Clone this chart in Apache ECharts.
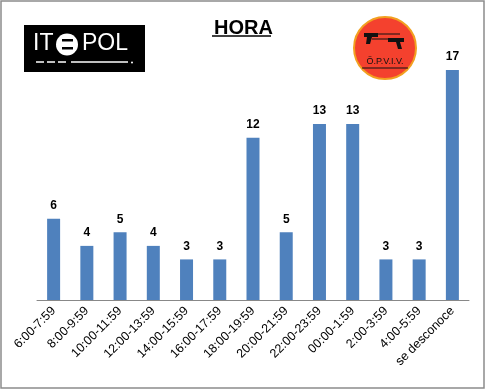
<!DOCTYPE html>
<html><head><meta charset="utf-8">
<script src="https://cdn.jsdelivr.net/npm/echarts@6/dist/echarts.min.js"></script>
<style>html,body{margin:0;padding:0;background:#fff}#c{width:487px;height:392px}</style>
</head><body><div id="c"></div>
<script>
const categories = ['6:00-7:59','8:00-9:59','10:00-11:59','12:00-13:59','14:00-15:59','16:00-17:59','18:00-19:59','20:00-21:59','22:00-23:59','00:00-1:59','2:00-3:59','4:00-5:59','se desconoce'];
const values = [6,4,5,4,3,3,12,5,13,13,3,3,17];
const titleText = 'HORA';

const chart = echarts.init(document.getElementById('c'));
const F = '"Liberation Sans", "DejaVu Sans", sans-serif';
chart.setOption({
  animation: false,
  backgroundColor: '#fff',
  title: { text: titleText, left: 'center', top: 13, textStyle: { fontFamily: F, fontWeight: 'bold', fontSize: 20, color: '#000' } },
  grid: { left: 37, right: 18, top: 70, bottom: 92 },
  xAxis: {
    type: 'category', data: categories,
    axisLine: { lineStyle: { color: '#888', width: 1 } },
    axisTick: { show: false },
    axisLabel: { rotate: 45, interval: 0, fontFamily: F, fontSize: 12.5, color: '#000', margin: 9 }
  },
  yAxis: { type: 'value', min: 0, max: 17, show: false, splitLine: { show: false } },
  series: [{
    type: 'bar', data: values, barWidth: 13,
    itemStyle: { color: '#4F81BD' },
    label: { show: true, position: 'top', distance: 7, fontFamily: F, fontWeight: 'bold', fontSize: 12, color: '#000' }
  }],
  graphic: [
    { type: 'rect', shape: { x: 1, y: 1, width: 483, height: 387 }, style: { fill: null, stroke: '#8c8c8c', lineWidth: 1.5 }, silent: true },
    { type: 'line', shape: { x1: 212, y1: 36, x2: 271, y2: 36 }, style: { stroke: '#000', lineWidth: 1.5 } },
    // ITEPOL logo
    { type: 'rect', shape: { x: 24, y: 25, width: 121, height: 47 }, style: { fill: '#000' } },
    { type: 'text', style: { x: 33, y: 32, text: 'IT', fill: '#fff', font: '23px ' + F } },
    { type: 'circle', shape: { cx: 67, cy: 44.5, r: 11 }, style: { fill: '#fff' } },
    { type: 'rect', shape: { x: 62, y: 39, width: 11, height: 2.5 }, style: { fill: '#000' } },
    { type: 'rect', shape: { x: 62, y: 47, width: 11, height: 2.5 }, style: { fill: '#000' } },
    { type: 'text', style: { x: 82, y: 32, text: 'POL', fill: '#fff', font: '23px ' + F } },
    { type: 'line', shape: { x1: 36, y1: 62, x2: 68, y2: 62 }, style: { stroke: '#fff', lineWidth: 1.5, lineDash: [8, 3] } },
    { type: 'line', shape: { x1: 71, y1: 62, x2: 128, y2: 62 }, style: { stroke: '#fff', lineWidth: 1.5 } },
    { type: 'circle', shape: { cx: 132, cy: 62.5, r: 1 }, style: { fill: '#fff' } },
    // OPVIV logo
    { type: 'circle', shape: { cx: 385, cy: 48, r: 31 }, style: { fill: '#F4412E', stroke: '#F2A020', lineWidth: 2 } },
    { type: 'polygon', shape: { points: [[364,33],[378,33],[378,37],[372,37],[370,44],[366,44],[367,37],[364,37]] }, style: { fill: '#111' } },
    { type: 'line', shape: { x1: 378, y1: 34, x2: 400, y2: 34 }, style: { stroke: '#111', lineWidth: 1 } },
    { type: 'polygon', shape: { points: [[388,38],[404,38],[404,42],[400,42],[402,49],[398,49],[396,42],[388,42]] }, style: { fill: '#111' } },
    { type: 'line', shape: { x1: 372, y1: 39, x2: 388, y2: 39 }, style: { stroke: '#111', lineWidth: 1 } },
    { type: 'text', style: { x: 385, y: 57, text: '\u00D6.P.V.I.V.', fill: '#111', font: '9px ' + F, align: 'center' } },
    { type: 'line', shape: { x1: 362, y1: 68, x2: 408, y2: 68 }, style: { stroke: '#111', lineWidth: 1 } }
  ]
});
</script></body></html>
